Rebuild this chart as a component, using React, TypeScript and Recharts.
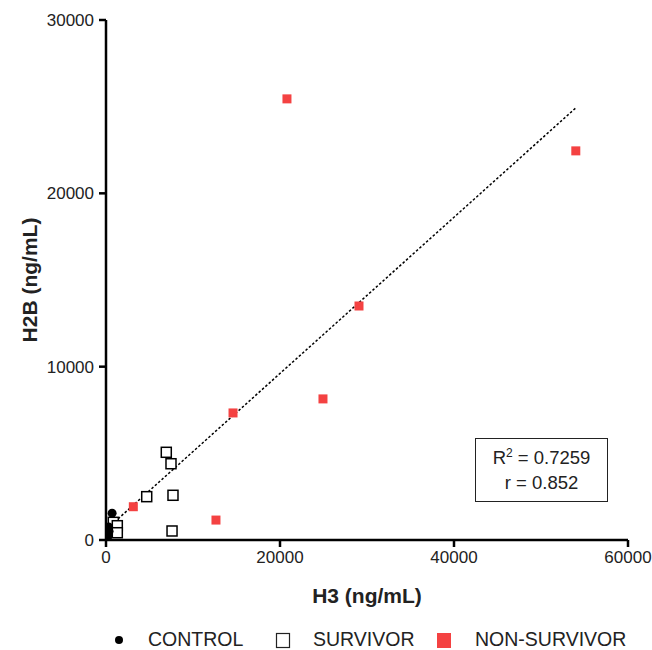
import React from 'react';
import { ScatterChart, Scatter, XAxis, YAxis, ReferenceLine, Label } from 'recharts';

const controlH3 = [700, 350, 200, 100, 300, 150, 50];
const controlH2B = [1550, 500, 200, 100, 750, 350, 600];

const survivorH3 = [6930, 7470, 4680, 7700, 7590, 840, 1300, 1300];
const survivorH2B = [5060, 4400, 2500, 2580, 520, 1020, 825, 420];

const nonSurvivorH3 = [20800, 54000, 29080, 14600, 24940, 12640, 3140];
const nonSurvivorH2B = [25450, 22450, 13500, 7330, 8140, 1150, 1920];

const xTicks = [0, 20000, 40000, 60000];
const yTicks = [0, 10000, 20000, 30000];

const fitX = [1000, 54000];
const fitSlope = 0.4506;
const fitIntercept = 596;

const seriesNames = ['CONTROL', 'SURVIVOR', 'NON-SURVIVOR'];
const statLines = ['0.7259', '0.852'];

const zip = (xs: number[], ys: number[]) => xs.map((x, i) => ({ x, y: ys[i] }));
const controlData = zip(controlH3, controlH2B);
const survivorData = zip(survivorH3, survivorH2B);
const nonSurvivorData = zip(nonSurvivorH3, nonSurvivorH2B);

const RED = '#F44242';
const FONT = '"Liberation Sans", Arial, sans-serif';

const Circle = (p: any) => <circle cx={p.cx} cy={p.cy} r={4.5} fill="#000" />;
const OpenSq = (p: any) => (
  <rect x={p.cx - 5} y={p.cy - 5} width={10} height={10} fill="#fff" stroke="#000" strokeWidth={1.5} />
);
const RedSq = (p: any) => <rect x={p.cx - 4.5} y={p.cy - 4.5} width={9} height={9} fill={RED} />;

export default function App() {
  return (
    <div style={{ position: 'absolute', left: 0, top: 0, width: 652, height: 650, background: '#fff', fontFamily: FONT }}>
      <ScatterChart width={652} height={650} margin={{ top: 20, right: 24, left: 0, bottom: 0 }}>
        <XAxis
          type="number"
          dataKey="x"
          domain={[0, 60000]}
          ticks={xTicks}
          allowDataOverflow
          height={110}
          axisLine={{ stroke: '#000', strokeWidth: 2.5 }}
          tickLine={{ stroke: '#000', strokeWidth: 2.5 }}
          tickSize={7}
          tick={{ fill: '#222', fontSize: 17, fontFamily: FONT }}
          tickMargin={4}
        >
          <Label value="H3 (ng/mL)" position="insideTop" offset={48} style={{ fontWeight: 'bold', fontSize: 21, fill: '#222', fontFamily: FONT }} />
        </XAxis>
        <YAxis
          type="number"
          dataKey="y"
          domain={[0, 30000]}
          ticks={yTicks}
          allowDataOverflow
          width={106}
          axisLine={{ stroke: '#000', strokeWidth: 2.5 }}
          tickLine={{ stroke: '#000', strokeWidth: 2.5 }}
          tickSize={7}
          tick={{ fill: '#222', fontSize: 17, fontFamily: FONT }}
          tickMargin={5}
        >
          <Label value="H2B (ng/mL)" angle={-90} position="insideLeft" offset={30} style={{ fontWeight: 'bold', fontSize: 21, fill: '#222', fontFamily: FONT, textAnchor: 'middle' }} />
        </YAxis>
        <ReferenceLine
          segment={[
            { x: fitX[0], y: fitSlope * fitX[0] + fitIntercept },
            { x: fitX[1], y: fitSlope * fitX[1] + fitIntercept },
          ]}
          stroke="#000"
          strokeWidth={1.5}
          strokeDasharray="2.5 2"
        />
        <Scatter name={seriesNames[1]} data={survivorData} shape={OpenSq} isAnimationActive={false} />
        <Scatter name={seriesNames[2]} data={nonSurvivorData} shape={RedSq} isAnimationActive={false} />
        <Scatter name={seriesNames[0]} data={controlData} shape={Circle} isAnimationActive={false} />
      </ScatterChart>

      <div
        style={{
          position: 'absolute', left: 475, top: 438, width: 133, height: 64,
          border: '1.5px solid #222', background: '#fff', textAlign: 'center',
          fontSize: 18.5, color: '#222', lineHeight: '25px', paddingTop: 6, boxSizing: 'border-box',
        }}
      >
        <div>R<sup style={{ fontSize: 12, lineHeight: 0 }}>2</sup> = {statLines[0]}</div>
        <div>r = {statLines[1]}</div>
      </div>

      <div style={{ position: 'absolute', left: 0, top: 627, width: 652, height: 26, fontSize: 19.5, color: '#222' }}>
        <svg width={652} height={26} style={{ position: 'absolute', left: 0, top: 0 }}>
          <circle cx={119} cy={13} r={4} fill="#000" />
          <rect x={276.5} y={6.5} width={13} height={14} fill="#fff" stroke="#222" strokeWidth={1.2} />
          <rect x={437} y={6} width={14} height={15} fill={RED} />
        </svg>
        <span style={{ position: 'absolute', left: 148, top: 1 }}>{seriesNames[0]}</span>
        <span style={{ position: 'absolute', left: 313, top: 1 }}>{seriesNames[1]}</span>
        <span style={{ position: 'absolute', left: 475, top: 1 }}>{seriesNames[2]}</span>
      </div>
    </div>
  );
}
